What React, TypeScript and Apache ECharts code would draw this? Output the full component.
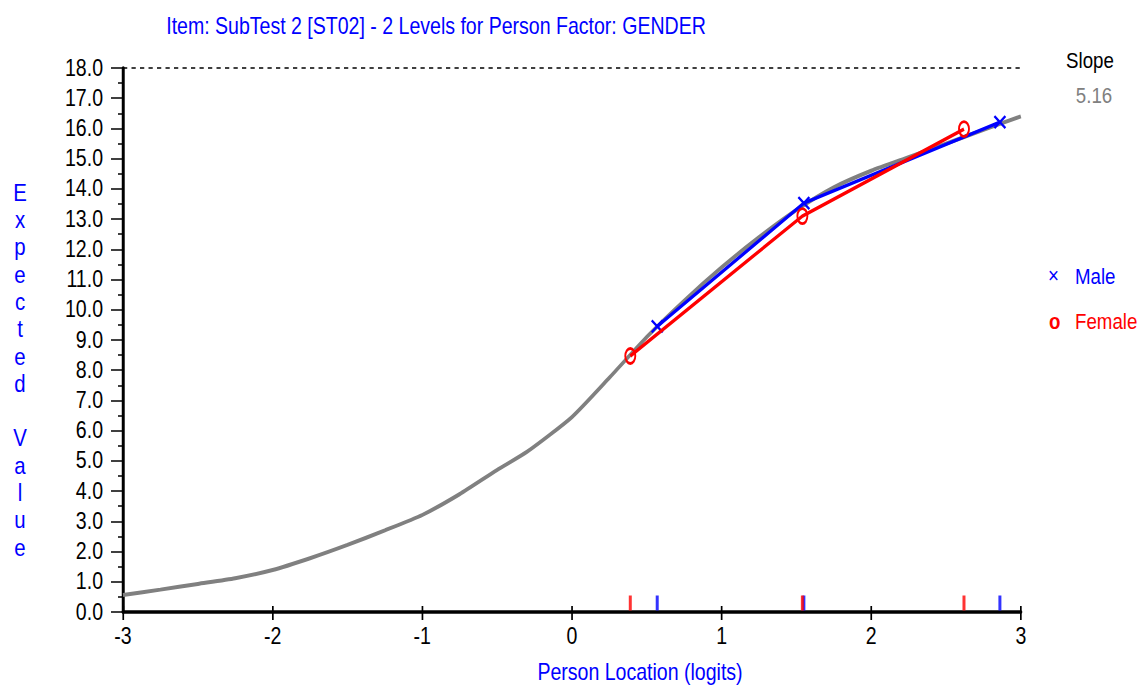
import React, { useEffect, useRef } from "react";
import * as echarts from "echarts";

const title = "Item: SubTest 2 [ST02] - 2 Levels for Person Factor: GENDER";
const xAxisName = "Person Location (logits)";
const yAxisName = "Expected Value";
const slopeLabel = "Slope";
const slopeValue = "5.16";

// Expected value curve (logits, expected value)
const curveX = [-3, -2.75, -2.5, -2.25, -2, -1.75, -1.5, -1.25, -1, -0.75, -0.5, -0.3, 0, 0.25, 0.5, 0.75, 1, 1.25, 1.5, 1.75, 2, 2.25, 2.5, 2.75, 3];
const curveY = [0.56, 0.74, 0.93, 1.12, 1.39, 1.78, 2.22, 2.7, 3.21, 3.9, 4.7, 5.3, 6.45, 7.75, 9.1, 10.3, 11.4, 12.4, 13.3, 14.05, 14.6, 15.05, 15.5, 15.95, 16.4];

// Class interval observed means
const maleX = [0.57, 1.55, 2.86];
const maleY = [9.45, 13.53, 16.21];
const femaleX = [0.39, 1.54, 2.62];
const femaleY = [8.47, 13.1, 15.98];

const xTicks = [-3, -2, -1, 0, 1, 2, 3];

// the reference uses a condensed face: the whole chart is drawn wider and squeezed horizontally
const SX = 0.85;
const W = 1140 / SX;
const H = 686;
const px = (x: number) => x / SX;

const FONT = "'Liberation Sans', Arial, sans-serif";
const BLUE = "#0000ff";
const RED = "#ff0000";
const GRAY = "#808080";

export default function App() {
  const ref = useRef<HTMLDivElement>(null);
  useEffect(() => {
    if (!ref.current) return;
    const chart = echarts.init(ref.current, null, { renderer: "svg" });
    const zip = (a: number[], b: number[]) => a.map((v, i) => [v, b[i]]);
    const crossPath = "path://M0,0L10,10M10,0L0,10";
    const ovalPath = "path://M5,0C7.8,0,10,3.1,10,7C10,10.9,7.8,14,5,14C2.2,14,0,10.9,0,7C0,3.1,2.2,0,5,0Z";
    chart.setOption({
      animation: false,
      backgroundColor: "#ffffff",
      grid: { left: px(123), right: px(119), top: 68, bottom: 74, containLabel: false },
      xAxis: [
        {
          type: "value",
          min: -3,
          max: 3,
          interval: 1,
          position: "bottom",
          axisLine: { show: true, onZero: false, lineStyle: { color: "#000", width: 3.5 } },
          axisTick: { show: true, length: 8, lineStyle: { color: "#000", width: 2 } },
          axisLabel: {
            color: "#000",
            fontSize: 23,
            fontFamily: FONT,
            margin: 13,
            formatter: (v: number) => (xTicks.includes(v) ? String(v) : ""),
          },
          splitLine: { show: false },
        },
        {
          type: "value",
          min: -3,
          max: 3,
          interval: 1,
          position: "bottom",
          offset: 0,
          axisLine: { show: false, onZero: false },
          axisTick: { show: true, inside: true, length: 6, lineStyle: { color: "#000", width: 2 } },
          axisLabel: { show: false },
          splitLine: { show: false },
        },
      ],
      yAxis: {
        type: "value",
        min: 0,
        max: 18,
        interval: 1,
        axisLine: { show: true, onZero: false, lineStyle: { color: "#000", width: 3.5 } },
        axisTick: { show: true, length: px(12), lineStyle: { color: "#000", width: 1.5 } },
        minorTick: { show: true, splitNumber: 2, length: px(5), lineStyle: { color: "#000", width: 1.5 } },
        axisLabel: {
          color: "#000",
          fontSize: 23,
          fontFamily: FONT,
          margin: px(20),
          formatter: (v: number) => v.toFixed(1),
        },
        splitLine: { show: false },
      },
      series: [
        {
          type: "line",
          name: "Expected",
          data: zip(curveX, curveY),
          showSymbol: false,
          smooth: 0.2,
          lineStyle: { color: GRAY, width: 4 },
          z: 2,
          markLine: {
            silent: true,
            symbol: "none",
            label: { show: false },
            lineStyle: { color: "#000", width: 1.5, type: [5, 5] },
            data: [{ yAxis: 18 }],
          },
        },
        {
          type: "line",
          name: "Male",
          data: zip(maleX, maleY),
          symbol: crossPath,
          symbolSize: [px(11), 12],
          lineStyle: { color: BLUE, width: 3.5 },
          itemStyle: { color: "rgba(0,0,0,0)", borderColor: BLUE, borderWidth: 2.5 },
          z: 3,
        },
        {
          type: "line",
          name: "Female",
          data: zip(femaleX, femaleY),
          symbol: ovalPath,
          symbolSize: [px(10), 15],
          lineStyle: { color: RED, width: 3.5 },
          itemStyle: { color: "rgba(0,0,0,0)", borderColor: RED, borderWidth: 2.5 },
          z: 4,
        },
        {
          type: "scatter",
          name: "MaleRug",
          data: maleX.map((x) => [x, 0]),
          symbol: "rect",
          symbolSize: [px(3), 15],
          symbolOffset: [0, -9],
          itemStyle: { color: BLUE },
          z: 5,
        },
        {
          type: "scatter",
          name: "FemaleRug",
          data: femaleX.map((x) => [x, 0]),
          symbol: "rect",
          symbolSize: [px(3), 15],
          symbolOffset: [0, -9],
          itemStyle: { color: RED },
          z: 6,
        },
      ],
      graphic: [
        {
          type: "text",
          x: px(436),
          y: 26,
          style: { text: title, fill: BLUE, font: `23px ${FONT}`, textAlign: "center", textVerticalAlign: "middle" },
        },
        {
          type: "text",
          x: px(20),
          y: 179,
          style: {
            text: yAxisName.split("").join("\n"),
            fill: BLUE,
            font: `24px ${FONT}`,
            textAlign: "center",
            lineHeight: 27.3,
          },
        },
        {
          type: "text",
          x: px(640),
          y: 672,
          style: { text: xAxisName, fill: BLUE, font: `23px ${FONT}`, textAlign: "center", textVerticalAlign: "middle" },
        },
        {
          type: "text",
          x: px(1090),
          y: 60,
          style: { text: slopeLabel, fill: "#000", font: `22px ${FONT}`, textAlign: "center", textVerticalAlign: "middle" },
        },
        {
          type: "text",
          x: px(1094),
          y: 95,
          style: { text: slopeValue, fill: GRAY, font: `22px ${FONT}`, textAlign: "center", textVerticalAlign: "middle" },
        },
        {
          type: "text",
          x: px(1048),
          y: 275,
          style: { text: "×", fill: BLUE, font: `22px ${FONT}`, textAlign: "left", textVerticalAlign: "middle" },
        },
        {
          type: "text",
          x: px(1075),
          y: 276,
          style: { text: "Male", fill: BLUE, font: `22px ${FONT}`, textAlign: "left", textVerticalAlign: "middle" },
        },
        {
          type: "text",
          x: px(1049),
          y: 321,
          style: { text: "o", fill: RED, font: `bold 22px ${FONT}`, textAlign: "left", textVerticalAlign: "middle" },
        },
        {
          type: "text",
          x: px(1075),
          y: 321,
          style: { text: "Female", fill: RED, font: `22px ${FONT}`, textAlign: "left", textVerticalAlign: "middle" },
        },
      ],
    });
    return () => chart.dispose();
  }, []);
  return (
    <div style={{ position: "absolute", left: 0, top: 0, width: 1140, height: H, overflow: "hidden", background: "#fff" }}>
      <div
        ref={ref}
        style={{ width: W, height: H, transform: `scaleX(${SX})`, transformOrigin: "0 0" }}
      />
    </div>
  );
}
